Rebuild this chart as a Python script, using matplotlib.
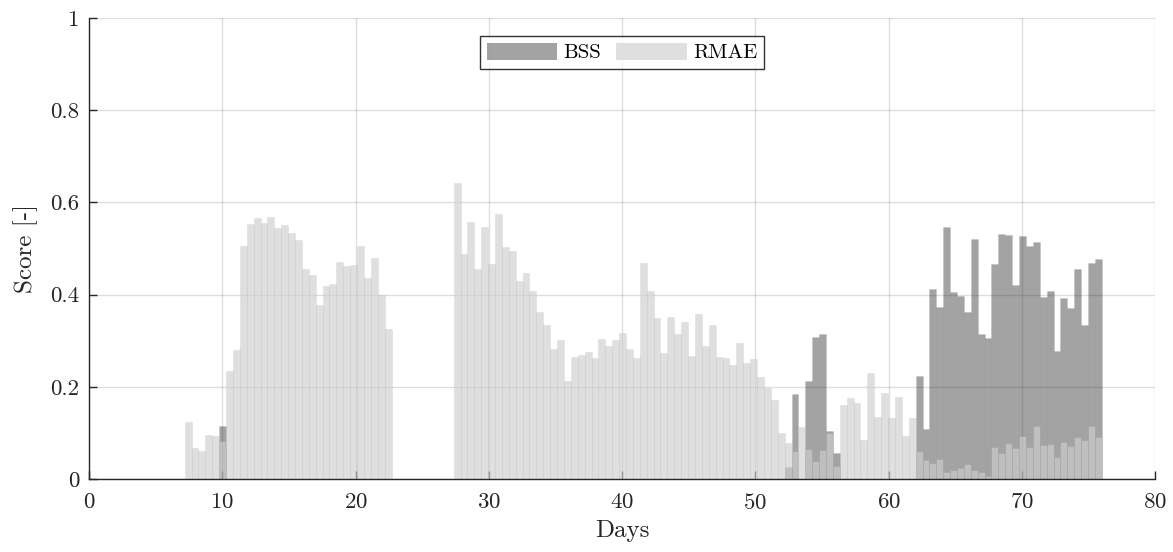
import numpy as np
import matplotlib
matplotlib.use("Agg")
import matplotlib.pyplot as plt

plt.rcParams["font.family"] = ["cmr10", "DejaVu Serif"]
plt.rcParams["mathtext.fontset"] = "cm"
plt.rcParams["axes.formatter.use_mathtext"] = True

# One bar per semidiurnal tidal cycle (M2 period, 12.42 h)
cycle_days = 12.42 / 24.0
first_day = 7.44

# Cycle numbers of the two observation windows
cycles_a = np.arange(0, 30)
cycles_b = np.arange(39, 133)

# Relative mean absolute error per cycle
rmae_a = [0.124, 0.067, 0.061, 0.095, 0.093, 0.083, 0.234, 0.280, 0.505, 0.553,
          0.566, 0.555, 0.568, 0.544, 0.551, 0.534, 0.518, 0.455, 0.442, 0.377,
          0.418, 0.423, 0.471, 0.462, 0.464, 0.505, 0.436, 0.479, 0.399, 0.325]
rmae_b = [0.642, 0.488, 0.557, 0.456, 0.547, 0.466, 0.575, 0.503, 0.495, 0.430,
          0.447, 0.408, 0.362, 0.334, 0.282, 0.301, 0.213, 0.265, 0.269, 0.275,
          0.262, 0.304, 0.289, 0.301, 0.316, 0.282, 0.262,
          0.469, 0.408, 0.349, 0.273, 0.351, 0.315, 0.341, 0.267, 0.358, 0.289,
          0.334, 0.265, 0.262, 0.247, 0.295, 0.252, 0.260, 0.221, 0.197, 0.171,
          0.100,
          0.078, 0.061, 0.113, 0.065, 0.038, 0.063, 0.100, 0.028, 0.161, 0.176,
          0.165, 0.085, 0.230, 0.135, 0.187, 0.132, 0.178, 0.093, 0.132, 0.061,
          0.041,
          0.035, 0.043, 0.015, 0.020, 0.024, 0.033, 0.020, 0.015, 0.007, 0.069,
          0.056, 0.078, 0.067, 0.093, 0.069, 0.115, 0.074, 0.076, 0.048, 0.080,
          0.072, 0.091, 0.085, 0.115, 0.091]

# Brier skill score per cycle (NaN where not positive / not available)
nan = np.nan
bss_a = [nan] * 5 + [0.115] + [nan] * 24
bss_b = [nan] * 48 + [0.026, 0.184, nan, 0.213, 0.308, 0.315, 0.104, 0.056] + \
        [nan] * 11 + [0.223, 0.108,
        0.412, 0.373, 0.547, 0.406, 0.397, 0.362, 0.521, 0.315, 0.306, 0.466,
        0.531, 0.529, 0.421, 0.527, 0.505, 0.514, 0.395, 0.408, 0.278, 0.393,
        0.371, 0.455, 0.334, 0.469, 0.477]

cycles = np.concatenate([cycles_a, cycles_b])
days = first_day + cycles * cycle_days
rmae = np.array(rmae_a + rmae_b)
bss = np.array(bss_a + bss_b)

fig = plt.figure(figsize=(11.73, 5.52), dpi=100)
ax = fig.add_axes([89 / 1173, 73 / 552, 1066 / 1173, 461 / 552])

edge = (0, 0, 0, 0.05)
ax.bar(days, bss, width=cycle_days, facecolor=(0.40, 0.40, 0.40, 0.6),
       edgecolor=edge, linewidth=0.6, label="BSS", zorder=2)
ax.bar(days, rmae, width=cycle_days, facecolor=(0.81, 0.81, 0.81, 0.65),
       edgecolor=edge, linewidth=0.6, label="RMAE", zorder=3)

ax.set_xlim(0, 80)
ax.set_ylim(0, 1)
ax.set_xticks(np.arange(0, 81, 10))
ax.set_yticks([0, 0.2, 0.4, 0.6, 0.8, 1.0])
ax.set_yticklabels(["0", "0.2", "0.4", "0.6", "0.8", "1"])

ax.grid(True, color=(0.15, 0.15, 0.15), alpha=0.15, linewidth=1.0, zorder=4)
ax.set_axisbelow(False)
for s in ("top", "right"):
    ax.spines[s].set_visible(False)
for s in ("left", "bottom"):
    ax.spines[s].set_color("#262626")
    ax.spines[s].set_linewidth(1.0)
    ax.spines[s].set_zorder(6)

ax.tick_params(direction="in", length=6, width=1.0, color="#262626",
               labelsize=16.5, labelcolor="#262626", pad=7)
ax.tick_params(axis="x", pad=10)
ax.set_xlabel("Days", fontsize=18, color="#262626", labelpad=5)
ax.set_ylabel("Score [-]", fontsize=18, color="#262626", labelpad=9)

leg = ax.legend(loc="upper center", bbox_to_anchor=(0.5, 0.96), ncol=2,
                fontsize=15, frameon=True, fancybox=False, edgecolor="black",
                handlelength=3.4, handleheight=0.87, columnspacing=0.7,
                handletextpad=0.3, borderpad=0.3, borderaxespad=0.0)
leg.get_frame().set_linewidth(1.0)
for h in leg.legend_handles:
    h.set_edgecolor("none")
leg.set_zorder(10)

fig.savefig("out.png", dpi=100)
